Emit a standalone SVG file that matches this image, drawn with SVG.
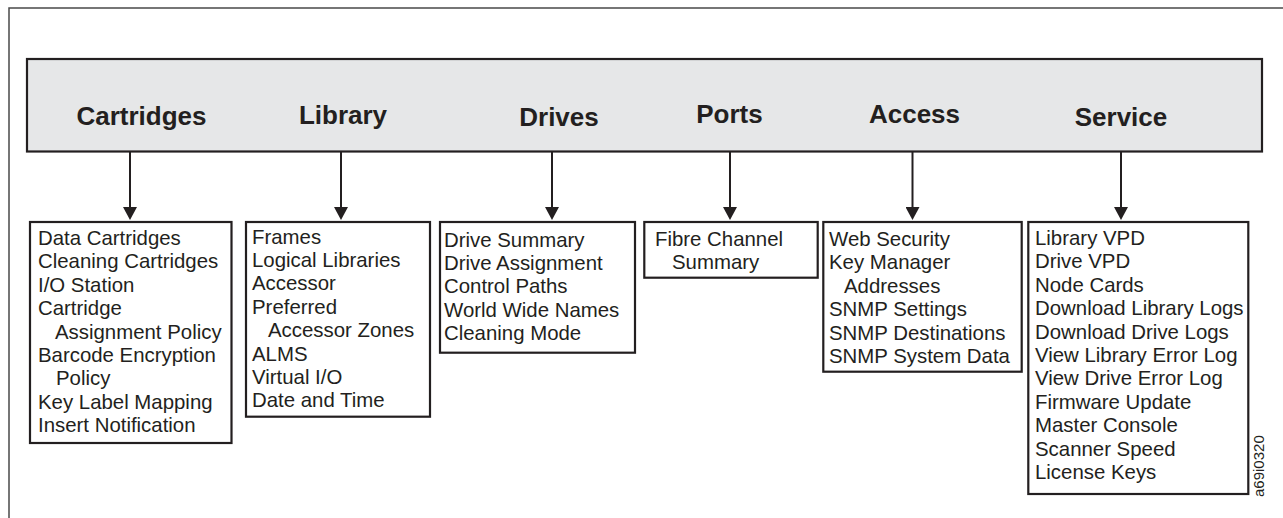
<svg xmlns="http://www.w3.org/2000/svg" width="1283" height="518" viewBox="0 0 1283 518">
<style>
.frame{fill:none;stroke:#4a4a4a;stroke-width:1.5}
.hdr{fill:#e6e7e8;stroke:#231f20;stroke-width:2.2}
.box{fill:#fff;stroke:#231f20;stroke-width:2.2}
.h{font-family:"Liberation Sans",Arial,sans-serif;font-weight:bold;font-size:26px;fill:#231f20;text-anchor:middle}
.t{font-family:"Liberation Sans",Arial,sans-serif;font-size:20.4px;fill:#231f20}
.c{stroke:#231f20;stroke-width:2;fill:none}
.id{font-family:"Liberation Sans",Arial,sans-serif;font-size:15px;fill:#231f20}
</style>
<defs>
<marker id="ah" markerWidth="13" markerHeight="14" refX="0" refY="7" orient="auto" markerUnits="userSpaceOnUse" viewBox="0 0 13 14">
<path d="M0,0 L13,7 L0,14 Z" fill="#231f20"/>
</marker>
</defs>
<path class="frame" d="M9,518 V8 H1283"/>
<g id="header">
<rect class="hdr" x="27" y="59" width="1235" height="92.5"/>
<text class="h" x="141.5" y="125">Cartridges</text>
<text class="h" x="343" y="124.3">Library</text>
<text class="h" x="559" y="126">Drives</text>
<text class="h" x="729.5" y="122.7">Ports</text>
<text class="h" x="914.5" y="123.3">Access</text>
<text class="h" x="1121" y="126">Service</text>
</g>
<g id="connectors">
<line class="c" x1="130" y1="152" x2="130" y2="207" marker-end="url(#ah)"/>
<line class="c" x1="341" y1="152" x2="341" y2="207" marker-end="url(#ah)"/>
<line class="c" x1="552" y1="152" x2="552" y2="207" marker-end="url(#ah)"/>
<line class="c" x1="730" y1="152" x2="730" y2="207" marker-end="url(#ah)"/>
<line class="c" x1="912.5" y1="152" x2="912.5" y2="207" marker-end="url(#ah)"/>
<line class="c" x1="1121" y1="152" x2="1121" y2="207" marker-end="url(#ah)"/>
</g>
<g id="cartridges">
<rect class="box" x="30" y="222" width="201.5" height="221"/>
<text class="t" x="38" y="245">Data Cartridges</text>
<text class="t" x="38" y="268.4">Cleaning Cartridges</text>
<text class="t" x="38" y="291.8">I/O Station</text>
<text class="t" x="38" y="315.2">Cartridge</text>
<text class="t" x="55" y="338.6">Assignment Policy</text>
<text class="t" x="38" y="362">Barcode Encryption</text>
<text class="t" x="56" y="385.4">Policy</text>
<text class="t" x="38" y="408.8">Key Label Mapping</text>
<text class="t" x="38" y="432.2">Insert Notification</text>
</g>
<g id="library">
<rect class="box" x="246" y="222" width="184" height="194.7"/>
<text class="t" x="252" y="243.5">Frames</text>
<text class="t" x="252" y="266.9">Logical Libraries</text>
<text class="t" x="252" y="290.3">Accessor</text>
<text class="t" x="252" y="313.7">Preferred</text>
<text class="t" x="268" y="337.1">Accessor Zones</text>
<text class="t" x="252" y="360.5">ALMS</text>
<text class="t" x="252" y="383.9">Virtual I/O</text>
<text class="t" x="252" y="407.3">Date and Time</text>
</g>
<g id="drives">
<rect class="box" x="440" y="222" width="195" height="130.7"/>
<text class="t" x="444" y="246.5">Drive Summary</text>
<text class="t" x="444" y="269.9">Drive Assignment</text>
<text class="t" x="444" y="293.3">Control Paths</text>
<text class="t" x="444" y="316.7">World Wide Names</text>
<text class="t" x="444" y="340.1">Cleaning Mode</text>
</g>
<g id="ports">
<rect class="box" x="644.3" y="222" width="173.4" height="55.7"/>
<text class="t" x="655" y="246">Fibre Channel</text>
<text class="t" x="672" y="269.4">Summary</text>
</g>
<g id="access">
<rect class="box" x="823.3" y="222" width="198.4" height="149.7"/>
<text class="t" x="829" y="246">Web Security</text>
<text class="t" x="829" y="269.4">Key Manager</text>
<text class="t" x="844" y="292.8">Addresses</text>
<text class="t" x="829" y="316.2">SNMP Settings</text>
<text class="t" x="829" y="339.6">SNMP Destinations</text>
<text class="t" x="829" y="363">SNMP System Data</text>
</g>
<g id="service">
<rect class="box" x="1028.3" y="222" width="220" height="272"/>
<text class="t" x="1035" y="245">Library VPD</text>
<text class="t" x="1035" y="268.4">Drive VPD</text>
<text class="t" x="1035" y="291.8">Node Cards</text>
<text class="t" x="1035" y="315.2">Download Library Logs</text>
<text class="t" x="1035" y="338.6">Download Drive Logs</text>
<text class="t" x="1035" y="362">View Library Error Log</text>
<text class="t" x="1035" y="385.4">View Drive Error Log</text>
<text class="t" x="1035" y="408.8">Firmware Update</text>
<text class="t" x="1035" y="432.2">Master Console</text>
<text class="t" x="1035" y="455.6">Scanner Speed</text>
<text class="t" x="1035" y="479">License Keys</text>
</g>
<text class="id" transform="translate(1263.5,497) rotate(-90)">a69i0320</text>
</svg>
